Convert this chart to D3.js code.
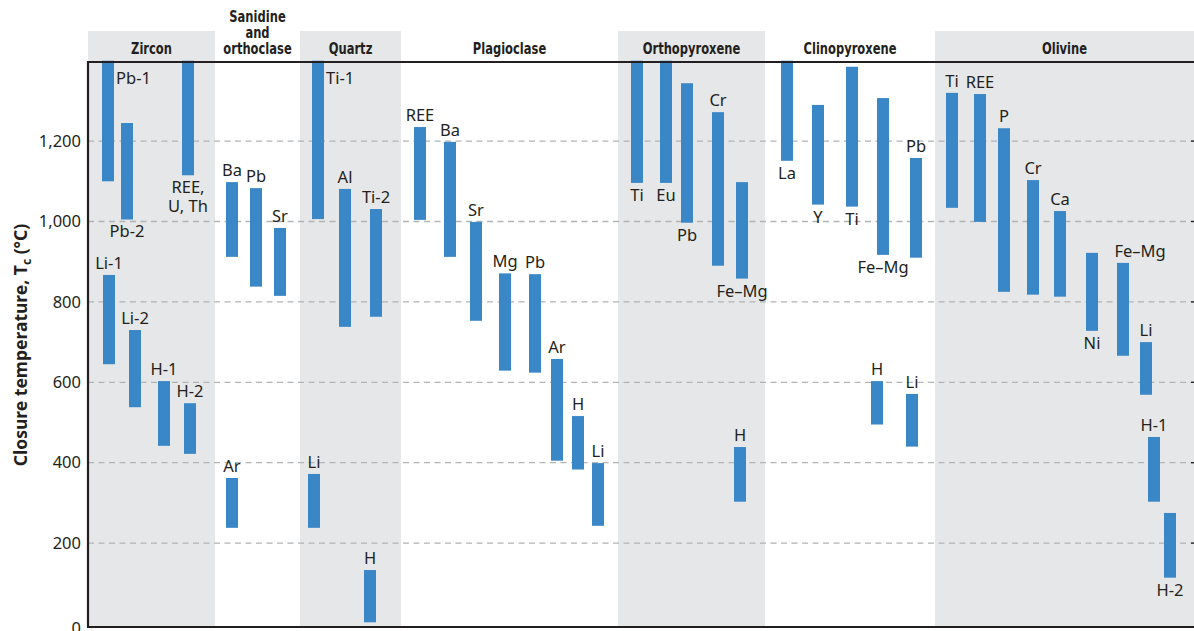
<!DOCTYPE html>
<html>
<head>
<meta charset="utf-8">
<script src="https://cdn.jsdelivr.net/npm/d3@7"></script>
<style>
  body { margin: 0; background: #fff; }
  svg { display: block; }
</style>
</head>
<body>
<div id="output"></div>
<script>
const width = 1194, height = 631;

// mineral groups (headers) and the horizontal extent of each group band
const minerals = ['Zircon', 'Sanidine|and|orthoclase', 'Quartz', 'Plagioclase',
                  'Orthopyroxene', 'Clinopyroxene', 'Olivine'];
const groupEdges = [0, 127, 212, 313, 530, 677, 847, 1106];
const shaded = [true, false, true, false, true, false, true];

// closure temperature ranges: [element, low, high] in °C
const zircon = [['Pb-1', 1100, 1400], ['Pb-2', 1005, 1245], ['REE,|U, Th', 1115, 1400],
                ['Li-1', 645, 867], ['Li-2', 538, 730], ['H-1', 442, 603], ['H-2', 422, 548]];
const sanidine = [['Ba', 912, 1098], ['Pb', 838, 1083], ['Sr', 815, 984], ['Ar', 238, 362]];
const quartz = [['Ti-1', 1006, 1400], ['Al', 738, 1081], ['Ti-2', 763, 1031],
                ['Li', 238, 372], ['H', 3, 133]];
const plagioclase = [['REE', 1004, 1235], ['Ba', 912, 1198], ['Sr', 753, 999], ['Mg', 629, 871],
                     ['Pb', 624, 869], ['Ar', 405, 658], ['H', 383, 516], ['Li', 243, 399]];
const orthopyroxene = [['Ti', 1096, 1400], ['Eu', 1096, 1400], ['Pb', 997, 1344],
                       ['Cr', 890, 1272], ['Fe\u2013Mg', 858, 1098], ['H', 303, 439]];
const clinopyroxene = [['La', 1151, 1400], ['Y', 1042, 1290], ['Ti', 1037, 1385],
                       ['Fe\u2013Mg', 917, 1307], ['Pb', 910, 1158], ['H', 495, 603], ['Li', 440, 571]];
const olivine = [['Ti', 1034, 1320], ['REE', 999, 1317], ['P', 825, 1232], ['Cr', 818, 1103],
                 ['Ca', 813, 1026], ['Ni', 728, 922], ['Fe\u2013Mg', 666, 897], ['Li', 569, 700],
                 ['H-1', 303, 464], ['H-2', 114, 275]];

// layout: horizontal slot of each bar and where its label goes
const layout = [
  [[20, 'right'], [39, 'below'], [100, 'below'], [21, 'above'], [47, 'above'], [76, 'above'], [102, 'above']],
  [[144, 'above'], [168, 'above'], [192, 'above'], [144, 'above']],
  [[230, 'right'], [257, 'above'], [288, 'above'], [226, 'above'], [282, 'above']],
  [[332, 'above'], [362, 'above'], [388, 'above'], [417, 'above'], [447, 'above'], [469, 'above'], [490, 'above'], [510, 'above']],
  [[549, 'below'], [578, 'below'], [599, 'below'], [630, 'above'], [654, 'below'], [652, 'above']],
  [[699, 'below'], [730, 'below'], [764, 'below'], [795, 'below'], [828, 'above'], [789, 'above'], [824, 'above']],
  [[864, 'above'], [892, 'above'], [916, 'above'], [945, 'above'], [972, 'above'], [1004, 'below'], [1035, 'above', 17], [1058, 'above'], [1066, 'above'], [1082, 'below']]
];

const yTicks = [0, 200, 400, 600, 800, 1000, 1200];
const gridTicks = [200, 400, 600, 800, 1000, 1200];

const series = [zircon, sanidine, quartz, plagioclase, orthopyroxene, clinopyroxene, olivine];
const bars = [];
series.forEach((list, g) => list.forEach((d, i) => {
  bars.push({group: g, label: d[0], lo: d[1], hi: d[2],
             pos: layout[g][i][0], side: layout[g][i][1], dx: layout[g][i][2] || 0});
}));

const plotLeft = 88, plotTop = 62, plotBottom = 627;
const x = d3.scaleLinear().domain([0, 1106]).range([plotLeft, width]);
const y = d3.scaleLinear().domain([0, 1400]).range([623.5, 60.7]);
const barW = 12;

const textColor = '#231f20';
const labelFont = '"Noto Sans", "Open Sans", sans-serif';
const headFont = '"DejaVu Sans", sans-serif';

const svg = d3.select('#output').append('svg')
    .attr('width', width)
    .attr('height', height);

// group bands
svg.append('g').attr('id', 'bands').selectAll('rect')
    .data(minerals.map((m, i) => ({name: m, i: i})).filter(d => shaded[d.i]))
    .enter().append('rect')
    .attr('x', d => x(groupEdges[d.i]))
    .attr('width', d => x(groupEdges[d.i + 1]) - x(groupEdges[d.i]))
    .attr('y', 31)
    .attr('height', plotBottom - 31)
    .attr('fill', '#e6e7e8');

// headers (condensed bold, squeezed horizontally)
const heads = svg.append('g').attr('id', 'heads')
    .attr('font-family', headFont)
    .attr('font-weight', 'bold')
    .attr('font-size', 16)
    .attr('fill', textColor)
    .attr('text-anchor', 'middle');
minerals.forEach((m, i) => {
  const lines = m.split('|');
  const cx = (x(groupEdges[i]) + x(groupEdges[i + 1])) / 2;
  lines.forEach((line, k) => {
    heads.append('text')
        .attr('transform', 'translate(' + cx + ',' + (53.5 - (lines.length - 1 - k) * 16) + ') scale(0.72,1)')
        .text(line);
  });
});

// grid
svg.append('g').attr('id', 'grid').selectAll('line')
    .data(gridTicks)
    .enter().append('line')
    .attr('x1', plotLeft).attr('x2', width)
    .attr('y1', d => y(d)).attr('y2', d => y(d))
    .attr('stroke', '#b1b3b5')
    .attr('stroke-width', 1.3)
    .attr('stroke-dasharray', '6,4.5');

// small ticks on the right edge
svg.append('g').selectAll('line')
    .data(gridTicks)
    .enter().append('line')
    .attr('x1', width - 3).attr('x2', width)
    .attr('y1', d => y(d)).attr('y2', d => y(d))
    .attr('stroke', textColor)
    .attr('stroke-width', 1.3);

// bars
svg.append('g').attr('id', 'bars').selectAll('rect')
    .data(bars)
    .enter().append('rect')
    .attr('x', d => x(d.pos) - barW / 2)
    .attr('width', barW)
    .attr('y', d => y(d.hi))
    .attr('height', d => y(d.lo) - y(d.hi))
    .attr('fill', '#3a87c8');

// bar labels
const labels = svg.append('g').attr('id', 'labels')
    .attr('font-family', labelFont)
    .attr('font-size', 16.5)
    .attr('fill', textColor);
bars.forEach(d => {
  const lines = d.label.split('|');
  const t = labels.append('text');
  let tx, ty;
  if (d.side === 'right') {
    tx = x(d.pos) + barW / 2 + 2; ty = y(d.hi) + 23;
  } else if (d.side === 'above') {
    tx = x(d.pos) + d.dx; ty = y(d.hi) - 6;
    t.attr('text-anchor', 'middle');
  } else {
    tx = x(d.pos) + d.dx; ty = y(d.lo) + 18;
    t.attr('text-anchor', 'middle');
  }
  t.attr('x', tx).attr('y', ty);
  lines.forEach((line, k) => {
    t.append('tspan').attr('x', tx).attr('dy', k === 0 ? 0 : 19).text(line);
  });
});

// y axis
const yAxis = svg.append('g')
    .attr('transform', 'translate(' + plotLeft + ',0)')
    .call(d3.axisLeft(y).tickValues(yTicks).tickSize(0).tickPadding(7).tickFormat(d3.format(',')));
yAxis.select('.domain').remove();
yAxis.selectAll('text')
    .attr('font-family', labelFont)
    .attr('font-size', 16.5)
    .attr('fill', textColor)
    .attr('dy', d => d === 0 ? '0.62em' : '0.32em');

// frame lines
const frame = svg.append('g').attr('stroke', textColor).attr('stroke-width', 2.2);
frame.append('line').attr('x1', plotLeft).attr('x2', width).attr('y1', plotTop).attr('y2', plotTop);
frame.append('line').attr('x1', plotLeft).attr('x2', width).attr('y1', plotBottom).attr('y2', plotBottom);
frame.append('line').attr('x1', plotLeft).attr('x2', plotLeft).attr('y1', plotTop - 1).attr('y2', plotBottom + 1);

// axis title
const title = svg.append('text')
    .attr('transform', 'translate(27,345) rotate(-90)')
    .attr('text-anchor', 'middle')
    .attr('font-family', labelFont)
    .attr('font-weight', 'bold')
    .attr('font-size', 17.5)
    .attr('fill', textColor);
title.append('tspan').text('Closure temperature, T');
title.append('tspan').attr('font-size', 12).attr('dy', 4).text('c');
title.append('tspan').attr('dy', -4).text(' (\u00b0C)');
</script>
</body>
</html>
